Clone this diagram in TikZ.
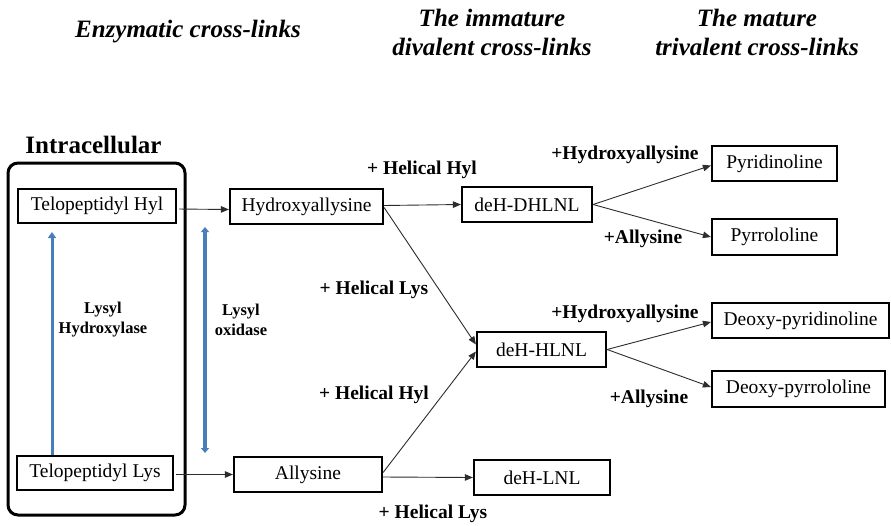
\documentclass[tikz,border=0pt]{standalone}
\usepackage{fontspec}
\setmainfont{Liberation Serif}
\usetikzlibrary{arrows.meta,calc}
\definecolor{eblue}{RGB}{74,126,187}
\definecolor{lgray}{RGB}{45,45,45}
\begin{document}
\begin{tikzpicture}[x=1pt,y=-1pt,
  box/.style={draw=black,line width=2.2pt,inner sep=0pt,font=\fontsize{19.5}{22}\selectfont},
  lbl/.style={font=\fontsize{19.5}{22}\selectfont\bfseries,inner sep=0pt,anchor=base},
  enz/.style={font=\fontsize{16.5}{20}\selectfont\bfseries,align=center,inner sep=0pt},
  hdr/.style={font=\fontsize{25}{29}\selectfont\bfseries\itshape,align=center,inner sep=0pt},
  arr/.style={draw=lgray,line width=0.9pt,-{Triangle[length=8pt,width=6.5pt]}},
  barrup/.style={draw=eblue,line width=3pt,-{Triangle[length=6pt,width=8pt]}},
  barrboth/.style={draw=eblue,line width=4pt,{Triangle[length=5pt,width=8pt]}-{Triangle[length=5pt,width=8pt]}}]
\useasboundingbox[fill=white] (0,0) rectangle (891,525);

% headers
\node[hdr] (h1) at (188,32) {Enzymatic cross-links};
\node[hdr] (h2) at (492,32.5) {The immature\\divalent cross-links};
\node[hdr] (h3) at (757,32.5) {The mature\\trivalent cross-links};

% intracellular
\node[font=\fontsize{25}{29}\selectfont\bfseries,inner sep=0pt] (intra) at (93.5,145) {Intracellular};
\node[draw=black,line width=3pt,rounded corners=10pt,minimum width=177pt,minimum height=352pt,inner sep=0pt] (cell) at (96.5,339) {};

% boxes
\node[box,minimum width=158pt,minimum height=34pt] (thyl) at (97,206) {Telopeptidyl Hyl};
\node[box,minimum width=156pt,minimum height=34pt] (tlys) at (95,473) {Telopeptidyl Lys};
\node[box,minimum width=153pt,minimum height=35pt] (hyd) at (306.5,206.5) {Hydroxyallysine};
\node[box,minimum width=148pt,minimum height=35pt] (ally) at (308,474.5) {Allysine};
\node[box,minimum width=130pt,minimum height=35pt] (dhlnl) at (527,204.5) {deH-DHLNL};
\node[box,minimum width=129pt,minimum height=35pt] (hlnl) at (541.5,349.5) {deH-HLNL};
\node[box,minimum width=136pt,minimum height=35pt] (lnl) at (542,477.5) {deH-LNL};
\node[box,minimum width=125pt,minimum height=35pt] (pyd) at (774.5,163.5) {Pyridinoline};
\node[box,minimum width=125pt,minimum height=36pt] (pyr) at (774.5,237) {Pyrrololine};
\node[box,minimum width=177pt,minimum height=35pt] (dpyd) at (800.5,320.5) {Deoxy-pyridinoline};
\node[box,minimum width=173pt,minimum height=36pt] (dpyr) at (798.5,389) {Deoxy-pyrrololine};

% enzyme labels
\node[enz] (lh) at (103,320) {Lysyl\\Hydroxylase};
\node[enz] (lo) at (241,320) {Lysyl\\oxidase};

% reaction labels
\node[lbl] (hhyl1) at (422,174.5) {+ Helical Hyl};
\node[lbl] (hlys1) at (374,294.5) {+ Helical Lys};
\node[lbl] (hhyl2) at (374,399.5) {+ Helical Hyl};
\node[lbl] (hlys2) at (433,518.5) {+ Helical Lys};
\node[lbl] (hx1) at (625,159.5) {+Hydroxyallysine};
\node[lbl] (al1) at (643,243.5) {+Allysine};
\node[lbl] (hx2) at (625,318.5) {+Hydroxyallysine};
\node[lbl] (al2) at (649,403.5) {+Allysine};

% blue arrows
\coordinate (lhtop) at (52,232);
\draw[barrup] (tlys.north -| lhtop) -- (lhtop);
\coordinate (lotop) at (205,227);
\coordinate (lobot) at (205,453);
\draw[barrboth] (lotop) -- (lobot);

% connectors
\draw[arr,shorten <=2pt] ([yshift=-3pt]thyl.east) -- ([yshift=-3pt]hyd.west);
\draw[arr,shorten <=2pt] ([yshift=-1.5pt]tlys.east) -- (ally.west);
\draw[arr] ([yshift=1pt]hyd.east) -- (dhlnl.west);
\draw[arr] ([yshift=-1pt]hyd.east) -- ([yshift=5pt]hlnl.west);
\draw[arr] ([yshift=2pt]ally.east) -- ([yshift=-2pt]hlnl.west);
\draw[arr] ([yshift=-2.5pt]ally.east) -- ([yshift=0pt]lnl.west);
\draw[arr] (dhlnl.east) -- ([yshift=-2pt]pyd.west);
\draw[arr] (dhlnl.east) -- (pyr.west);
\draw[arr] (hlnl.east) -- ([yshift=-1.5pt]dpyd.west);
\draw[arr] (hlnl.east) -- ([yshift=2pt]dpyr.west);
\end{tikzpicture}
\end{document}
